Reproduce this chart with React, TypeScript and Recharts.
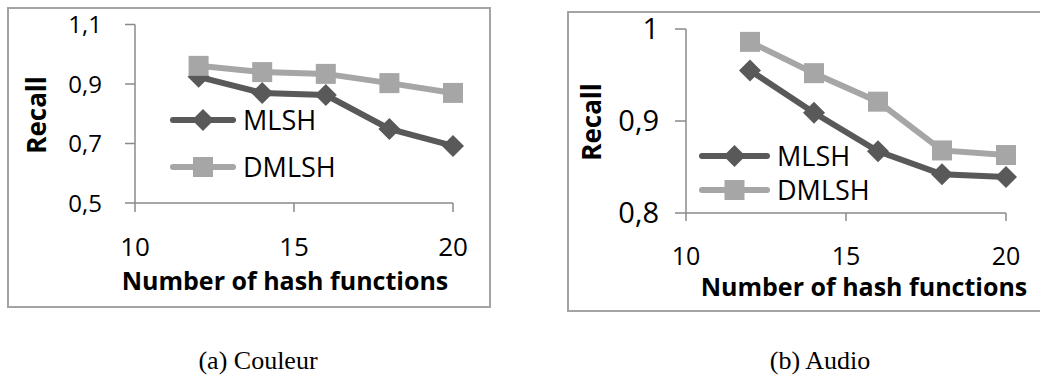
import { Legend, Line, LineChart, XAxis, YAxis } from "recharts";

const hashCounts = [12, 14, 16, 18, 20];
const couleurMlsh = [0.924, 0.87, 0.863, 0.749, 0.692];
const couleurDmlsh = [0.961, 0.94, 0.934, 0.903, 0.87];
const audioMlsh = [0.955, 0.909, 0.867, 0.842, 0.839];
const audioDmlsh = [0.986, 0.952, 0.921, 0.868, 0.863];
const xTicks = [10, 15, 20];
const couleurTicks = [0.5, 0.7, 0.9, 1.1];
const audioTicks = [0.8, 0.9, 1];
const seriesNames = ["MLSH", "DMLSH"];
const captions = ["(a) Couleur", "(b) Audio"];

const darkGray = "#595959";
const lightGray = "#a6a6a6";
const axisGray = "#8a8a8a";
const sansFont = "'Open Sans', sans-serif";

const formatComma = (v: number) => String(v).replace(".", ",");

const diamondDot = (color: string) => (props: any) => {
  const { cx, cy, index } = props;
  const r = 11;
  return <path key={`d-${index}`} d={`M${cx},${cy - r}L${cx + r},${cy}L${cx},${cy + r}L${cx - r},${cy}Z`} fill={color} />;
};

const squareDot = (color: string) => (props: any) => {
  const { cx, cy, index } = props;
  return <rect key={`s-${index}`} x={cx - 10} y={cy - 10} width={20} height={20} fill={color} />;
};

interface LegendProps {
  rowGap: number;
  lineLen: number;
}

function SeriesLegend({ rowGap, lineLen }: LegendProps) {
  const colors = [darkGray, lightGray];
  return (
    <svg width={230} height={110} style={{ display: "block" }}>
      {seriesNames.map((name, i) => {
        const y = 30 + i * rowGap;
        const mid = 12 + lineLen / 2;
        return (
          <g key={name}>
            <line x1={12} x2={12 + lineLen} y1={y} y2={y} stroke={colors[i]} strokeWidth={6} strokeLinecap="round" />
            {i === 0 ? (
              <path d={`M${mid},${y - 11}L${mid + 11},${y}L${mid},${y + 11}L${mid - 11},${y}Z`} fill={colors[i]} />
            ) : (
              <rect x={mid - 10} y={y - 10} width={20} height={20} fill={colors[i]} />
            )}
            <text x={lineLen + 22} y={y} dy="0.36em" fontSize={27} fontFamily={sansFont} fill="#000">
              {name}
            </text>
          </g>
        );
      })}
    </svg>
  );
}

interface PanelProps {
  left: number;
  width: number;
  height: number;
  margin: { top: number; right: number; bottom: number; left: number };
  mlsh: number[];
  dmlsh: number[];
  yTicks: number[];
  yTickFont: number;
  yTickSize: number;
  yTickMargin: number;
  xTickFont: number;
  xTickSize: number;
  xTickMargin: number;
  xLabelDx: number;
  xLabelDy: number;
  yLabelX: number;
  yLabelY: number;
  legendLeft: number;
  legendTop: number;
  legendGap: number;
  legendLine: number;
}

function RecallPanel(p: PanelProps) {
  const data = hashCounts.map((x, i) => ({ x, mlsh: p.mlsh[i], dmlsh: p.dmlsh[i] }));
  return (
    <div style={{ position: "absolute", left: p.left, top: 0 }}>
      <LineChart width={p.width} height={p.height} data={data} margin={p.margin}>
        <XAxis
          dataKey="x"
          type="number"
          domain={[10, 20]}
          ticks={xTicks}
          axisLine={{ stroke: axisGray, strokeWidth: 1.5 }}
          tickLine={{ stroke: axisGray, strokeWidth: 1.5 }}
          tickSize={p.xTickSize}
          tickMargin={p.xTickMargin}
          tick={{ fontSize: p.xTickFont, fill: "#000", fontFamily: sansFont }}
          height={80}
          label={{
            content: (props: any) => {
              const vb = props.viewBox;
              return (
                <text x={vb.x + vb.width / 2 + p.xLabelDx} y={vb.y + p.xLabelDy} textAnchor="middle" fontSize={25} fontWeight="bold" fontFamily={sansFont} fill="#000">
                  Number of hash functions
                </text>
              );
            }
          }}
        />
        <YAxis
          type="number"
          domain={[p.yTicks[0], p.yTicks[p.yTicks.length - 1]]}
          ticks={p.yTicks}
          tickFormatter={formatComma}
          axisLine={{ stroke: axisGray, strokeWidth: 1.5 }}
          tickLine={{ stroke: axisGray, strokeWidth: 1.5 }}
          tickSize={p.yTickSize}
          tickMargin={p.yTickMargin}
          tick={{ fontSize: p.yTickFont, fill: "#000", fontFamily: sansFont }}
          width={70}
          label={{
            content: () => (
              <text transform={`translate(${p.yLabelX},${p.yLabelY}) rotate(-90)`} dy="0.36em" textAnchor="middle" fontSize={26} fontWeight="bold" fontFamily={sansFont} fill="#000">
                Recall
              </text>
            )
          }}
        />
        <Legend
          layout="horizontal"
          verticalAlign="middle"
          align="center"
          wrapperStyle={{ left: p.legendLeft, top: p.legendTop, width: 230, height: 110 }}
          content={() => <SeriesLegend rowGap={p.legendGap} lineLen={p.legendLine} />}
        />
        <Line name="MLSH" dataKey="mlsh" stroke={darkGray} strokeWidth={6} dot={diamondDot(darkGray)} activeDot={false} isAnimationActive={false} />
        <Line name="DMLSH" dataKey="dmlsh" stroke={lightGray} strokeWidth={6} dot={squareDot(lightGray)} activeDot={false} isAnimationActive={false} />
      </LineChart>
    </div>
  );
}

const captionStyle = {
  position: "absolute" as const,
  top: 348,
  width: 200,
  textAlign: "center" as const,
  fontFamily: "'Liberation Serif', serif",
  fontSize: 26,
  lineHeight: "26px",
  color: "#000"
};

export default function App() {
  return (
    <div style={{ position: "absolute", left: 0, top: 0, width: 1040, height: 376, background: "#fff", overflow: "hidden" }}>
      <div style={{ position: "absolute", left: 7, top: 7, width: 484, height: 301, border: "2px solid #a3a3a3", boxSizing: "border-box" }} />
      <div style={{ position: "absolute", left: 567, top: 11, width: 490, height: 301, border: "2px solid #a3a3a3", boxSizing: "border-box" }} />

      <RecallPanel
        left={0}
        width={500}
        height={320}
        margin={{ top: 24.5, right: 47, bottom: 37, left: 65 }}
        mlsh={couleurMlsh}
        dmlsh={couleurDmlsh}
        yTicks={couleurTicks}
        yTickFont={24}
        yTickSize={10}
        yTickMargin={23}
        xTickFont={26}
        xTickSize={9}
        xTickMargin={26}
        xLabelDx={-9}
        xLabelDy={87}
        yLabelX={37}
        yLabelY={115}
        legendLeft={161}
        legendTop={90}
        legendGap={47}
        legendLine={60}
      />
      <RecallPanel
        left={560}
        width={480}
        height={320}
        margin={{ top: 29, right: 34, bottom: 27, left: 56 }}
        mlsh={audioMlsh}
        dmlsh={audioDmlsh}
        yTicks={audioTicks}
        yTickFont={29}
        yTickSize={11}
        yTickMargin={16}
        xTickFont={25}
        xTickSize={8}
        xTickMargin={26}
        xLabelDx={18}
        xLabelDy={83}
        yLabelX={32}
        yLabelY={122}
        legendLeft={130}
        legendTop={126}
        legendGap={34}
        legendLine={65}
      />

      <div style={{ ...captionStyle, left: 158 }}>{captions[0]}</div>
      <div style={{ ...captionStyle, left: 720 }}>{captions[1]}</div>
    </div>
  );
}
